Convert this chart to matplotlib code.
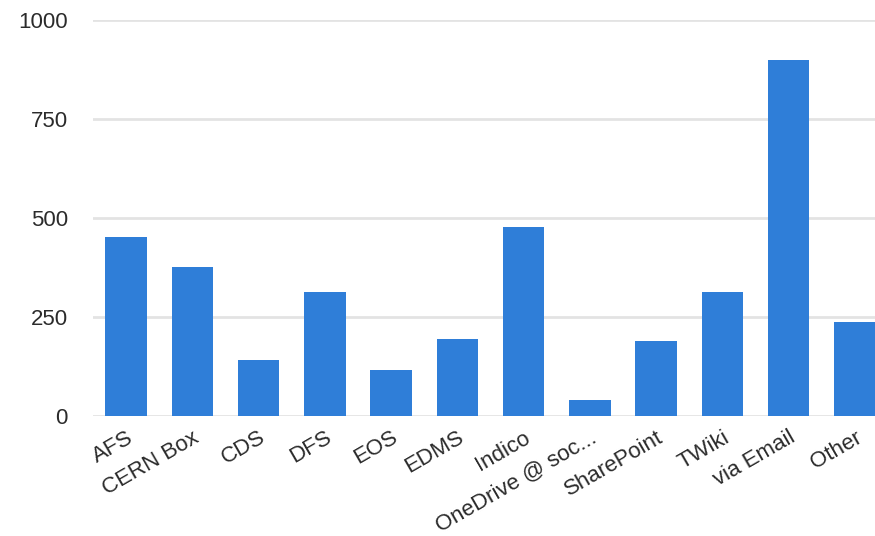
import matplotlib.pyplot as plt

categories = ["AFS", "CERN Box", "CDS", "DFS", "EOS", "EDMS", "Indico",
              "OneDrive @ soc...", "SharePoint", "TWiki", "via Email", "Other"]
values = [452, 376, 141, 313, 116, 194, 477, 40, 189, 313, 899, 237]
yticks = [0, 250, 500, 750, 1000]

plt.rcParams['font.family'] = ['Liberation Sans', 'DejaVu Sans']

fig = plt.figure(figsize=(8.75, 5.36), dpi=100)
# axes runs past the right edge so the last bar is cut off like the original
ax = fig.add_axes([93 / 875, 120 / 536, 795 / 875, 396 / 536])

x = range(len(categories))
ax.bar(x, values, width=0.63, color="#2f7ed8", zorder=3)

ax.set_xlim(-0.5, len(categories) - 0.5)
ax.set_ylim(0, 1000)
ax.set_yticks(yticks)
ax.set_yticklabels([str(v) for v in yticks])
ax.set_xticks(list(x))
ax.set_xticklabels(categories, rotation=30, ha="right", va="top",
                   rotation_mode="anchor")

ax.grid(axis="y", color="#e3e3e3", linewidth=2, zorder=0)
for s in ax.spines.values():
    s.set_visible(False)
ax.tick_params(axis="y", length=0, pad=18, labelsize=16, labelcolor="#2b2b2b")
ax.tick_params(axis="x", length=0, pad=8, labelsize=16, labelcolor="#2b2b2b")

fig.savefig("out.png", dpi=100)
